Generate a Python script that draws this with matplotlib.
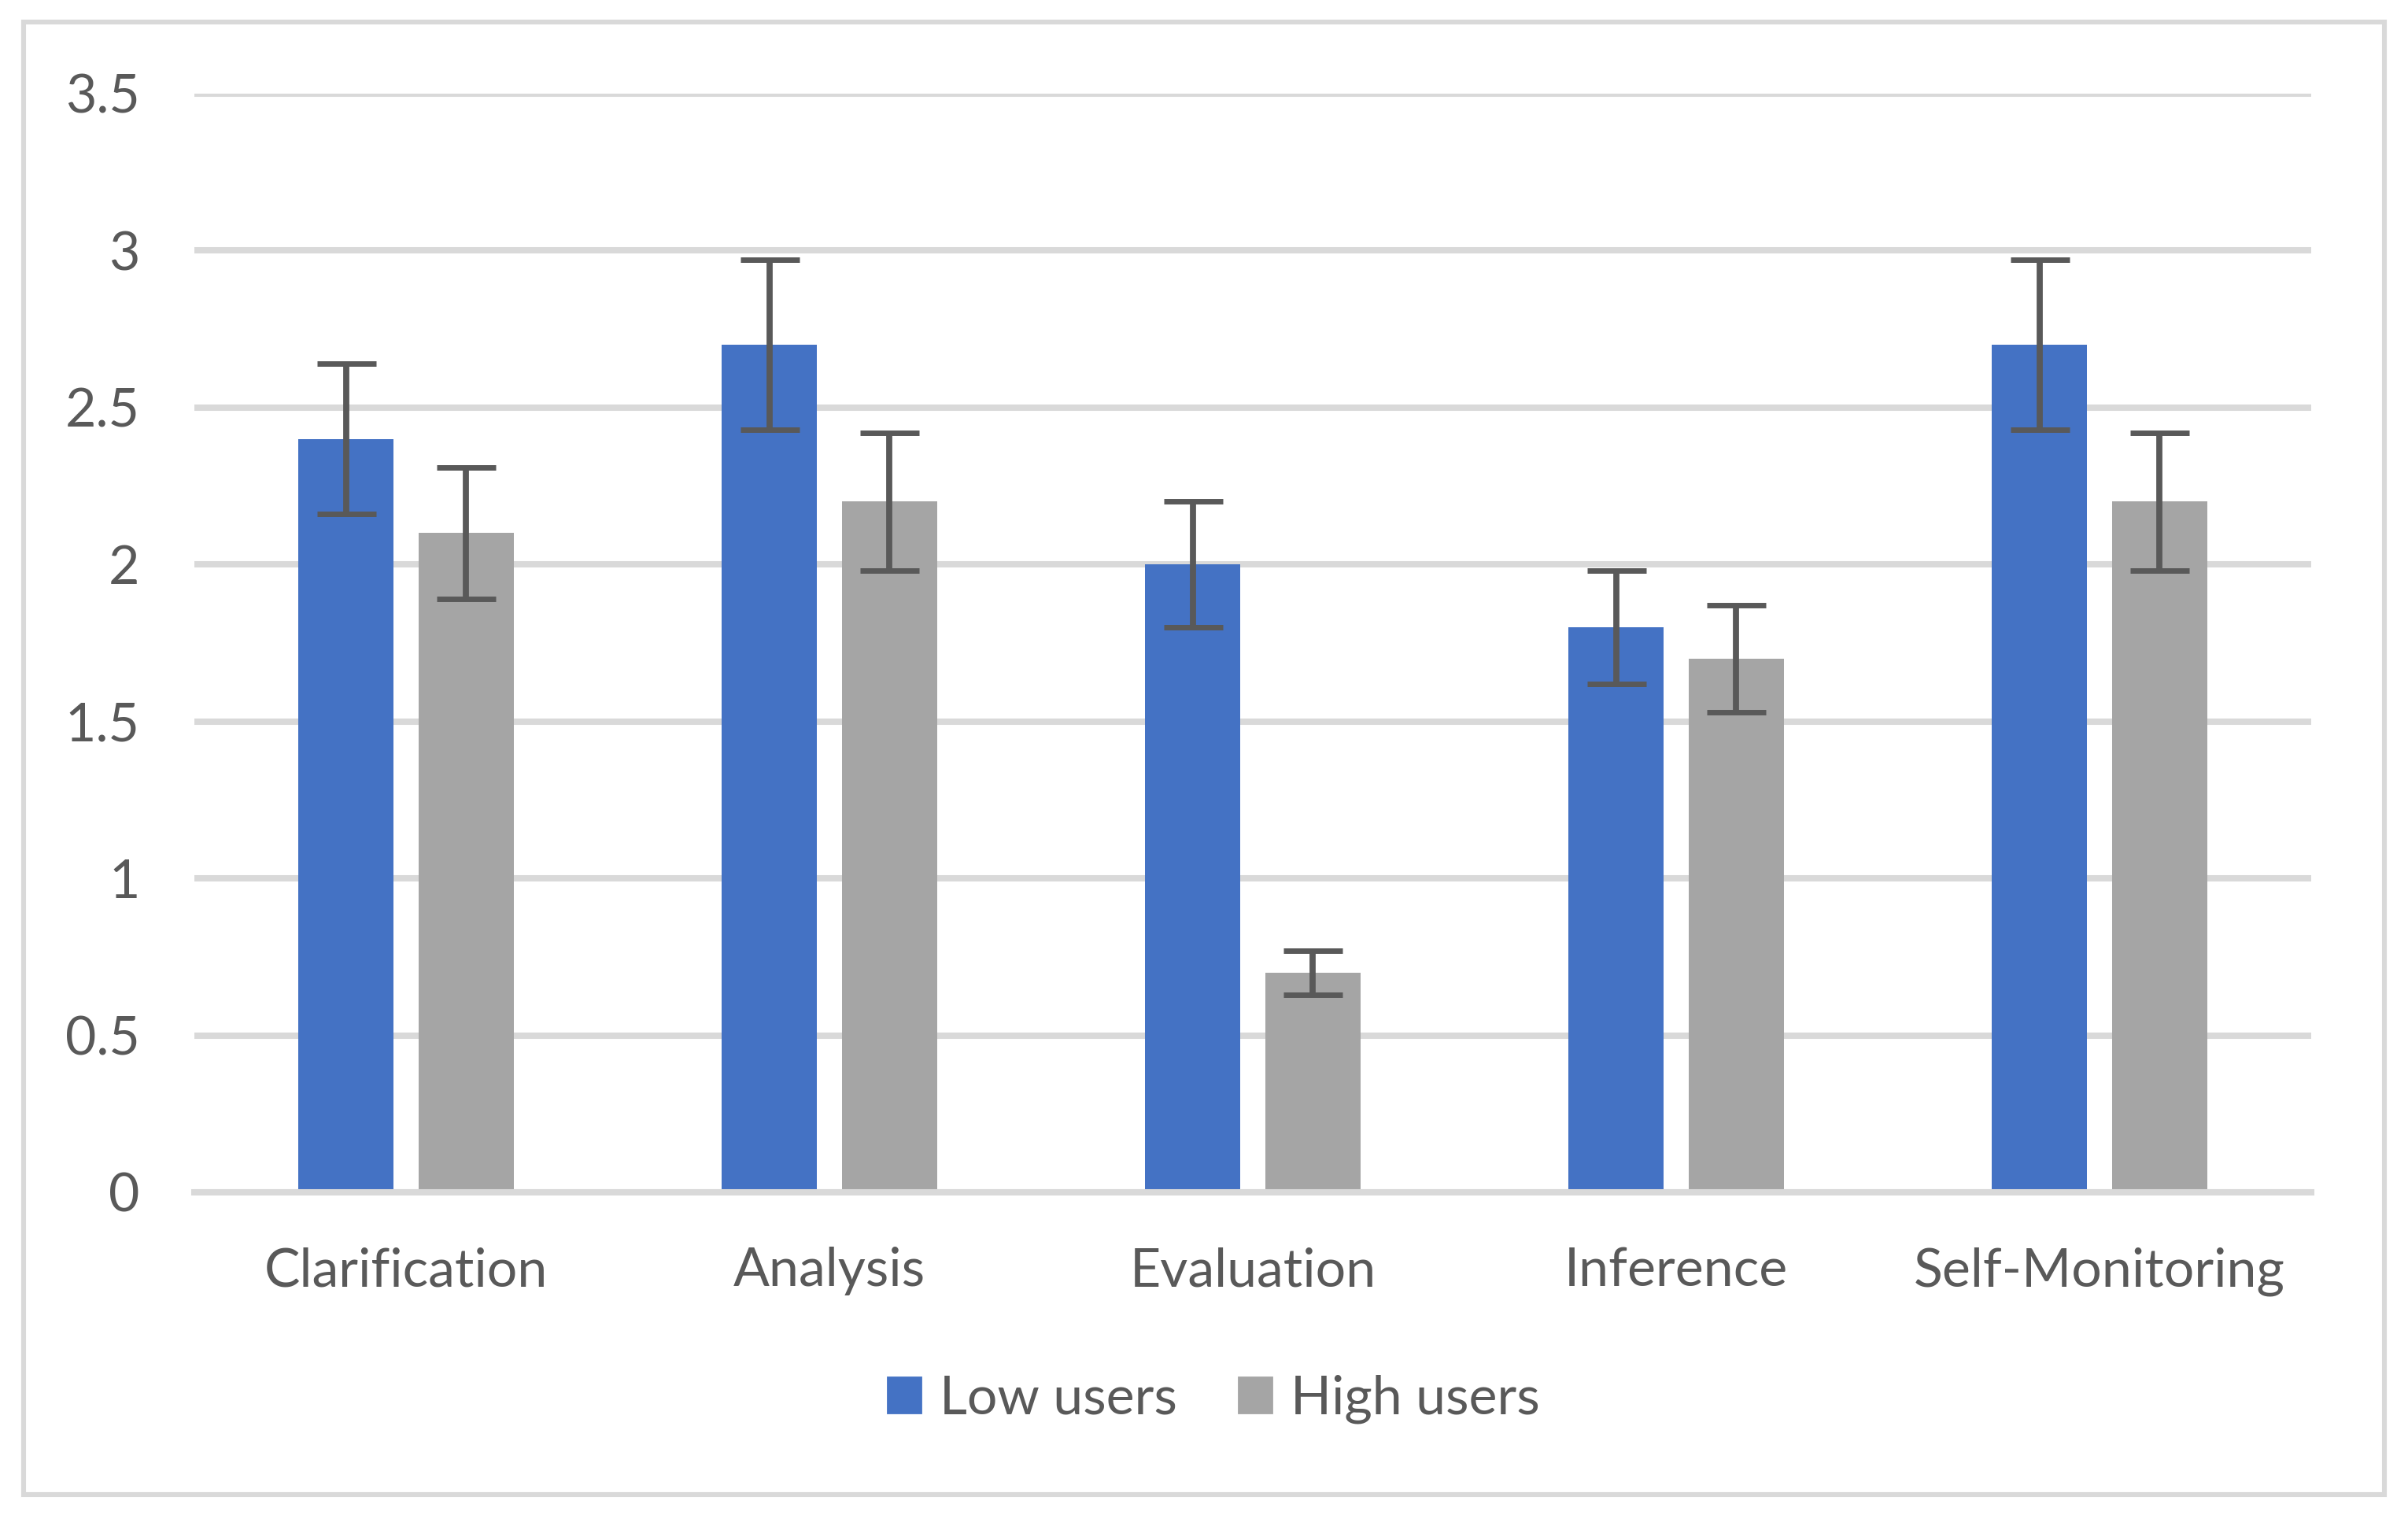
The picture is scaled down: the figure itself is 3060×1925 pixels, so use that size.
import matplotlib
matplotlib.use('Agg')
import matplotlib.pyplot as plt
import matplotlib.patches as patches
from matplotlib.ticker import FuncFormatter
import numpy as np

plt.rcParams['font.family'] = ['Lato', 'DejaVu Sans']

# data
categories = ['Clarification', 'Analysis', 'Evaluation', 'Inference', 'Self-Monitoring']
low_users = [2.4, 2.7, 2.0, 1.8, 2.7]
high_users = [2.1, 2.2, 0.7, 1.7, 2.2]
low_err = [0.24, 0.27, 0.20, 0.18, 0.27]
high_err = [0.21, 0.22, 0.07, 0.17, 0.22]
series_names = ['Low users', 'High users']

COLORS = {
    'low': '#4472C4',
    'high': '#A5A5A5',
    'text': '#595959',
    'grid': '#D9D9D9',
}

fig = plt.figure(figsize=(15.3, 9.625), dpi=200)
fig.patch.set_facecolor('white')
ax = fig.add_axes([0.0807, 0.2130, 0.8791, 0.7252])

x = np.arange(len(categories))
width = 0.225
offset = 0.142

err_kw = dict(ecolor=COLORS['text'], elinewidth=2.8, capsize=13.5, capthick=2.5)
ax.bar(x - offset, low_users, width, color=COLORS['low'], yerr=low_err,
       error_kw=err_kw, zorder=2, label=series_names[0])
ax.bar(x + offset, high_users, width, color=COLORS['high'], yerr=high_err,
       error_kw=err_kw, zorder=2, label=series_names[1])

ax.set_xlim(-0.5, len(categories) - 0.5)
ax.set_ylim(0, 3.5)
ax.set_yticks(np.arange(0, 3.51, 0.5))
ax.yaxis.set_major_formatter(FuncFormatter(lambda v, p: '%g' % v))
ax.set_xticks(x)
ax.set_xticklabels(categories)

ax.yaxis.grid(True, color=COLORS['grid'], linewidth=2.9, zorder=0)
ax.set_axisbelow(True)
ax.axhline(0, color=COLORS['grid'], linewidth=2.9, zorder=3, clip_on=False)
for s in ax.spines.values():
    s.set_visible(False)

ax.tick_params(axis='y', length=0, pad=25, labelsize=24.5, labelcolor=COLORS['text'])
ax.tick_params(axis='x', length=0, pad=25, labelsize=24.5, labelcolor=COLORS['text'])

handles = [patches.Patch(color=COLORS['low']), patches.Patch(color=COLORS['high'])]
fig.legend(handles, series_names, loc='center', bbox_to_anchor=(0.504, 0.0764),
           ncol=2, frameon=False, fontsize=24.5, labelcolor=COLORS['text'],
           handlelength=0.62, handleheight=0.64, handletextpad=0.35,
           columnspacing=1.15)

# outer chart border
border = patches.Rectangle((0.0098, 0.0135), 0.9804, 0.972, transform=fig.transFigure,
                           fill=False, edgecolor=COLORS['grid'], linewidth=2.2)
fig.patches.append(border)

fig.savefig('out.png', dpi=200, facecolor='white')
